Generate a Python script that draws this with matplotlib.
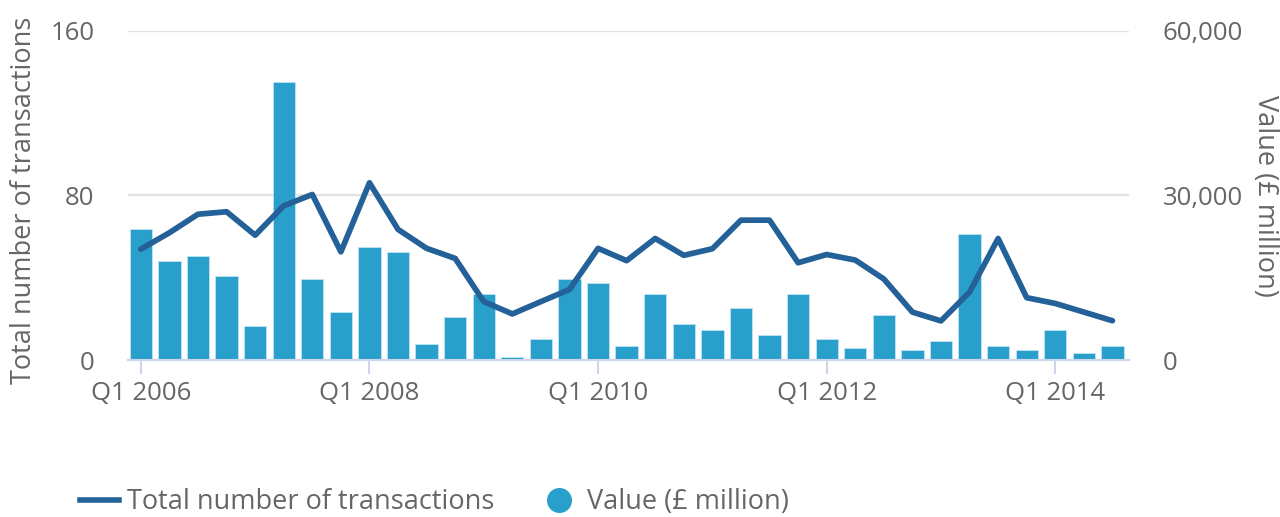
import matplotlib.pyplot as plt
from matplotlib.lines import Line2D
import numpy as np

plt.rcParams['font.family'] = ['Open Sans', 'DejaVu Sans']

# quarters Q1 2006 .. Q3 2014
quarters = [f"Q{q} {y}" for y in range(2006, 2015) for q in range(1, 5)][:35]

transactions = [53.9, 61.9, 70.9, 72.1, 60.7, 75.0, 80.5, 52.6, 86.2, 63.5,
                54.3, 49.4, 28.4, 22.4, 28.4, 34.3, 54.3, 48.3, 59.1, 50.9,
                54.1, 68.0, 68.0, 47.3, 51.3, 48.6, 39.4, 23.3, 19.0, 33.0,
                59.1, 30.3, 27.5, 23.3, 19.1]

value = [23815, 18100, 18890, 15250, 6250, 50780, 14820, 8690, 20530, 19740,
         2970, 7900, 11970, 490, 3770, 14820, 13970, 2550, 11970, 6620,
         5410, 9530, 4620, 11970, 3770, 2130, 8260, 1760, 3400, 22960,
         2550, 1760, 5410, 1340, 2550]

line_col = '#236198'
bar_col = '#29a0cc'
txt_col = '#666666'
axis_col = '#ccd6eb'
fs = 18.5
fs_lab = 19.5

x = np.arange(len(quarters))

fig = plt.figure(figsize=(12.8, 5.17), dpi=100)
ax = fig.add_axes([128/1280, 1 - 360/517, 1001/1280, 329/517])
ax2 = ax.twinx()
ax.set_zorder(ax2.get_zorder() + 1)
ax.patch.set_visible(False)

ax2.bar(x, value, width=0.78, color=bar_col, edgecolor='#bfe3f1', linewidth=0.6)
ax2.set_ylim(0, 60000)
ax2.set_yticks([0, 30000, 60000])
ax2.set_yticklabels(['0', '30,000', '60,000'])
ax2.grid(axis='y', color='#e3e3e3', linewidth=1.6)
ax2.set_axisbelow(True)

ax.plot(x, transactions, color=line_col, lw=4.1, solid_capstyle='round', solid_joinstyle='round')
ax.set_ylim(0, 160)
ax.set_yticks([0, 80, 160])
ax.set_xlim(-0.45, 34.58)
ax.set_xticks(x[::8])
ax.set_xticklabels([quarters[i] for i in x[::8]])

for a in (ax, ax2):
    for s in a.spines.values():
        s.set_visible(False)
ax.spines['bottom'].set_visible(True)
ax.spines['bottom'].set_color(axis_col)
ax.spines['bottom'].set_linewidth(1.5)

ax.tick_params(axis='x', colors=axis_col, length=10, width=1.5, pad=5, labelcolor=txt_col, labelsize=fs)
ax.tick_params(axis='y', length=0, pad=24, labelcolor=txt_col, labelsize=fs)
ax2.tick_params(axis='y', length=0, pad=24, labelcolor=txt_col, labelsize=fs)

fig.text(24/1280, 1 - 200/517, 'Total number of transactions', color=txt_col, fontsize=fs_lab,
         rotation=90, ha='center', va='center')
fig.text(1265/1280, 1 - 196/517, 'Value (£ million)', color=txt_col, fontsize=fs_lab,
         rotation=270, ha='center', va='center')

handles = [Line2D([0], [0], color=line_col, lw=4),
           Line2D([0], [0], color=bar_col, marker='o', markersize=17, lw=0)]
fig.legend(handles, ['Total number of transactions', 'Value (£ million)'],
           loc='center left', bbox_to_anchor=(69/1280, 1 - 502/517), ncol=2,
           frameon=False, fontsize=fs_lab, labelcolor=txt_col, handlelength=1.45,
           columnspacing=1.66, handletextpad=0.3, borderaxespad=0)

fig.savefig('out.png', dpi=100)
